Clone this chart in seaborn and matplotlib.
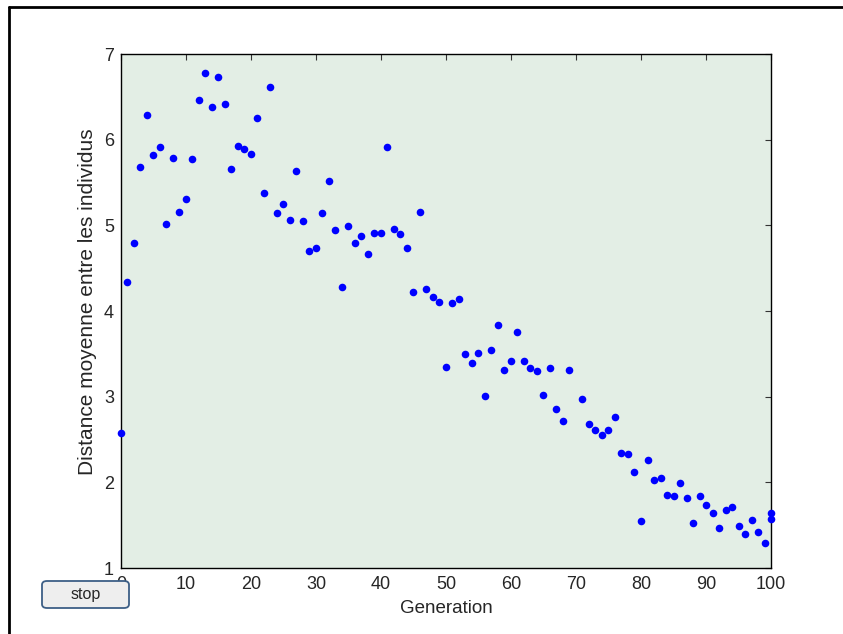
import numpy as np
import pandas as pd
import seaborn as sns
import matplotlib
matplotlib.use('Agg')
import matplotlib.pyplot as plt
from matplotlib.patches import FancyBboxPatch
from matplotlib.lines import Line2D

# generation index (70 absent, 100 appears twice in the picture)
generation = [0, 1, 2, 3, 4, 5, 6, 7, 8, 9, 10, 11, 12, 13, 14, 15, 16, 17, 18, 19,
              20, 21, 22, 23, 24, 25, 26, 27, 28, 29, 30, 31, 32, 33, 34, 35, 36, 37, 38, 39,
              40, 41, 42, 43, 44, 45, 46, 47, 48, 49, 50, 51, 52, 53, 54, 55, 56, 57, 58, 59,
              60, 61, 62, 63, 64, 65, 66, 67, 68, 69, 71, 72, 73, 74, 75, 76, 77, 78, 79,
              80, 81, 82, 83, 84, 85, 86, 87, 88, 89, 90, 91, 92, 93, 94, 95, 96, 97, 98, 99,
              100, 100]
distance = [2.58, 4.34, 4.79, 5.68, 6.29, 5.82, 5.91, 5.02, 5.79, 5.16,
            5.31, 5.77, 6.46, 6.78, 6.38, 6.73, 6.42, 5.66, 5.93, 5.89,
            5.83, 6.25, 5.38, 6.61, 5.14, 5.25, 5.06, 5.63, 5.05, 4.70,
            4.74, 5.14, 5.52, 4.95, 4.28, 4.99, 4.79, 4.88, 4.67, 4.91,
            4.91, 5.91, 4.96, 4.90, 4.74, 4.22, 5.16, 4.26, 4.16, 4.10,
            3.35, 4.09, 4.14, 3.50, 3.39, 3.51, 3.01, 3.54, 3.84, 3.31,
            3.42, 3.76, 3.42, 3.33, 3.30, 3.02, 3.33, 2.86, 2.72, 3.31,
            2.97, 2.68, 2.61, 2.55, 2.61, 2.76, 2.34, 2.33, 2.12,
            1.55, 2.26, 2.03, 2.05, 1.85, 1.84, 1.99, 1.82, 1.53, 1.84,
            1.74, 1.64, 1.47, 1.68, 1.71, 1.49, 1.40, 1.56, 1.42, 1.29,
            1.64, 1.57]
xticks = list(range(0, 101, 10))
yticks = [1, 2, 3, 4, 5, 6, 7]

df = pd.DataFrame({'Generation': generation, 'Distance': distance})

sns.set_style('white')
plt.rcParams['font.family'] = ['Liberation Sans', 'DejaVu Sans']

fig = plt.figure(figsize=(8.43, 6.34), dpi=100)
ax = fig.add_axes([0.1435, 0.1041, 0.7711, 0.8107])
ax.set_facecolor('#e3eee5')

sns.scatterplot(data=df, x='Generation', y='Distance', ax=ax,
                color='#0000ff', s=30, linewidth=0, clip_on=False, zorder=3)

ax.set_xlim(0, 100)
ax.set_ylim(1, 7)
ax.set_xticks(xticks)
ax.set_yticks(yticks)
ax.tick_params(direction='in', length=4.5, width=0.8, color='#333333',
               labelsize=13, top=True, right=True)
ax.tick_params(axis='x', pad=6)
ax.tick_params(axis='y', pad=5)
for s in ax.spines.values():
    s.set_color('black')
    s.set_linewidth(1.0)
    s.set_visible(True)

ax.set_xlabel('Generation', fontsize=13.5, labelpad=5)
ax.set_ylabel('Distance moyenne entre les individus', fontsize=15)
ax.yaxis.set_label_coords(-0.037, 0.5175)

# window frame lines (top and left)
fig.add_artist(Line2D([9 / 843, 1], [1 - 7 / 634, 1 - 7 / 634], color='black', lw=2))
fig.add_artist(Line2D([9 / 843, 9 / 843], [0, 1 - 7 / 634], color='black', lw=2))

# stop button
btn = FancyBboxPatch((42 / 843, 1 - 608 / 634), 87 / 843, 27 / 634,
                     boxstyle='round,pad=0,rounding_size=0.006',
                     transform=fig.transFigure, facecolor='#eeeeee',
                     edgecolor='#3d5f86', linewidth=1.3, zorder=10)
fig.add_artist(btn)
fig.text(85.5 / 843, 1 - 595 / 634, 'stop', ha='center', va='center',
         fontsize=11.5, zorder=11)

fig.savefig('out.png', dpi=100, facecolor='white')
